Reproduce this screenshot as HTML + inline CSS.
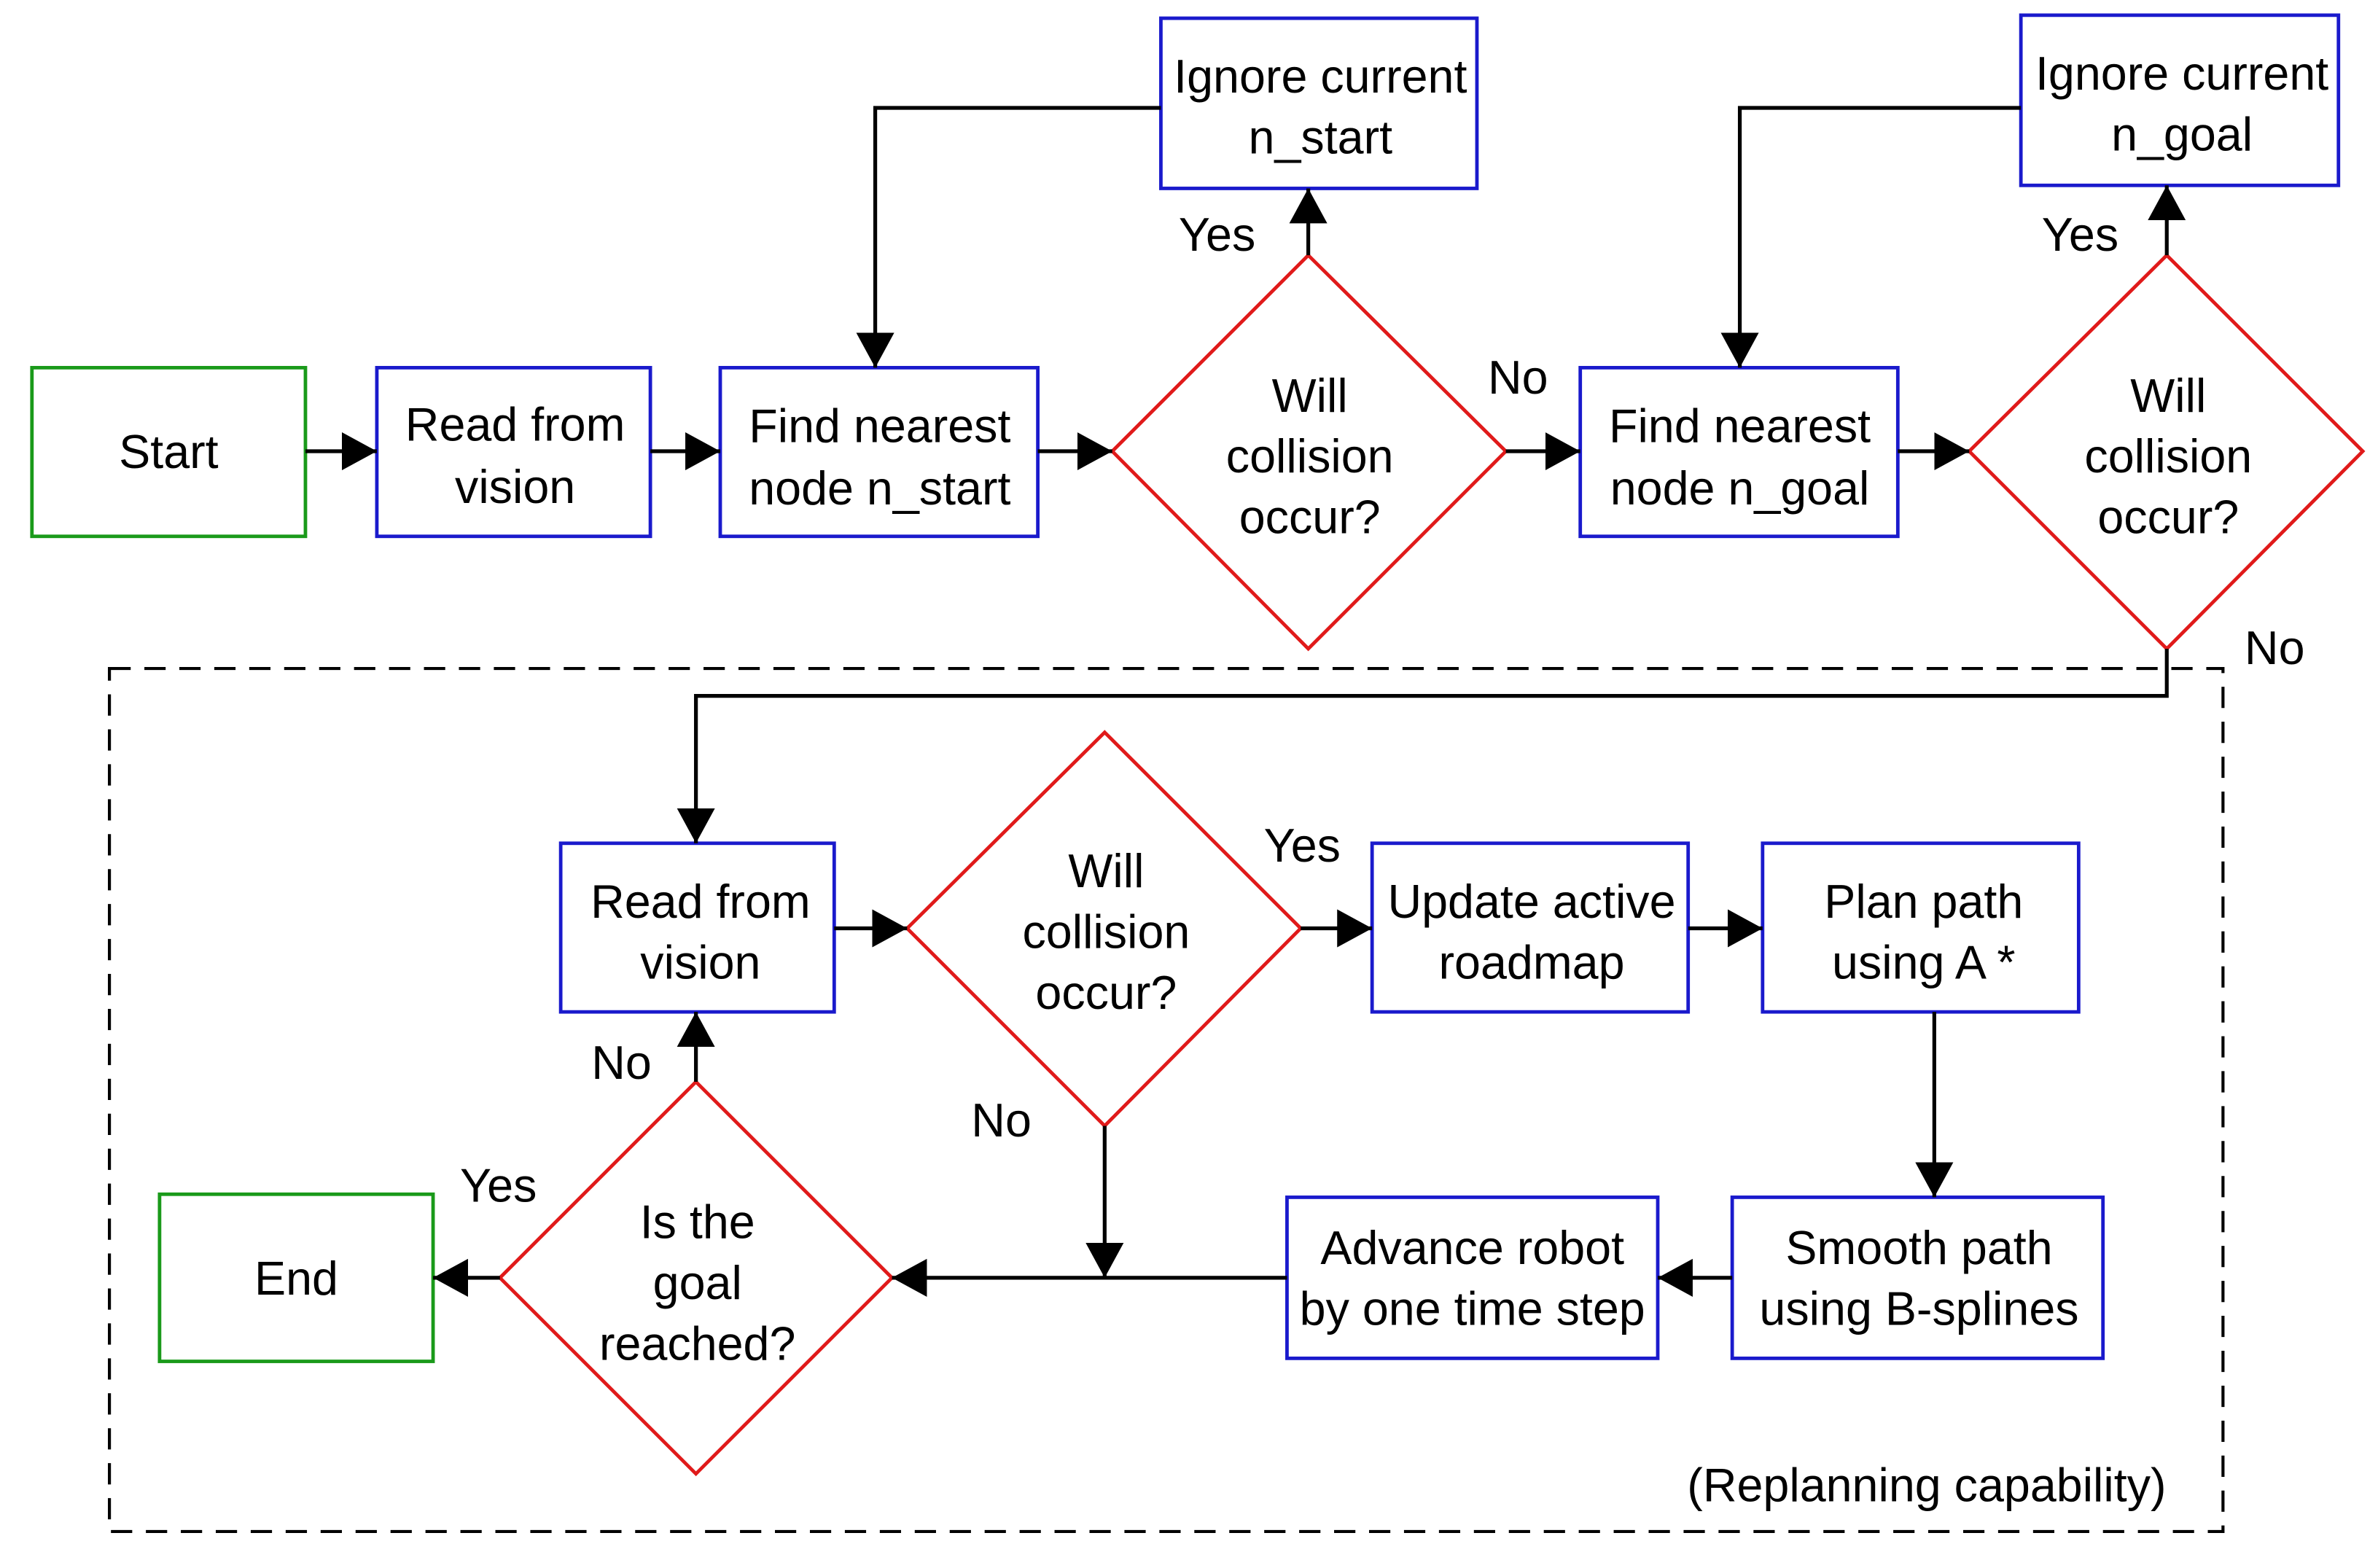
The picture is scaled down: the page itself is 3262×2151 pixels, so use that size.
<!DOCTYPE html>
<html><head><meta charset="utf-8"><style>html,body{margin:0;padding:0;background:#fff}svg{display:block}</style></head>
<body>
<svg width="3262" height="2151" viewBox="0 0 1565 1032" xmlns="http://www.w3.org/2000/svg">
<defs>
<marker id="h" viewBox="0 0 10 10" refX="10" refY="5" markerWidth="23" markerHeight="25" orient="auto" markerUnits="userSpaceOnUse" preserveAspectRatio="none"><path d="M0,0 L10,5 L0,10 z" fill="#000"/></marker></defs>
<g fill="#fff" stroke-width="2.3">
<rect x="21" y="242" width="180" height="111" stroke="#1a9a1a"/>
<rect x="105" y="786" width="180" height="110" stroke="#1a9a1a"/>
<g stroke="#1a1acc">
<rect x="248" y="242" width="180" height="111"/>
<rect x="474" y="242" width="209" height="111"/>
<rect x="764" y="12" width="208" height="112"/>
<rect x="1040" y="242" width="209" height="111"/>
<rect x="1330" y="10" width="209" height="112"/>
<rect x="369" y="555" width="180" height="111"/>
<rect x="903" y="555" width="208" height="111"/>
<rect x="1160" y="555" width="208" height="111"/>
<rect x="1140" y="788" width="244" height="106"/>
<rect x="847" y="788" width="244" height="106"/>
</g>
<g stroke="#e01a1a">
<polygon points="861,168 991,297 861,427 732,297"/>
<polygon points="1426,168 1555,297 1426,427 1296,297"/>
<polygon points="727,482 856,611 727,741 597,611"/>
<polygon points="458,712 587,841 458,970 329,841"/>
</g>
</g>
<rect x="72" y="440" width="1391" height="568" fill="none" stroke="#000" stroke-width="2" stroke-dasharray="14,9"/>
<g fill="none" stroke="#000" stroke-width="2.5" marker-end="url(#h)">
<path d="M201,297 H248"/><path d="M428,297 H474"/><path d="M683,297 H732"/>
<path d="M861,168 V124"/><path d="M764,71 H576 V242"/>
<path d="M991,297 H1040"/><path d="M1249,297 H1296"/>
<path d="M1426,168 V122"/><path d="M1330,71 H1145 V242"/>
<path d="M1426,427 V458 H458 V555"/>
<path d="M549,611 H597"/><path d="M856,611 H903"/><path d="M1111,611 H1160"/>
<path d="M1273,666 V788"/><path d="M1140,841 H1091"/>
<path d="M847,841 H587"/><path d="M727,741 V841"/>
<path d="M458,712 V666"/><path d="M329,841 H285"/>
</g>
<g font-family="Liberation Sans, sans-serif" font-size="31" fill="#000" text-anchor="middle">
<text x="111" y="308">Start</text>
<text x="339" y="290">Read from</text><text x="339" y="331">vision</text>
<text x="579" y="291">Find nearest</text><text x="579" y="332">node n_start</text>
<text x="869" y="61">Ignore current</text><text x="869" y="101">n_start</text>
<text x="862" y="271">Will</text><text x="862" y="311">collision</text><text x="862" y="351">occur?</text>
<text x="1145" y="291">Find nearest</text><text x="1145" y="332">node n_goal</text>
<text x="1436" y="59">Ignore current</text><text x="1436" y="99">n_goal</text>
<text x="1427" y="271">Will</text><text x="1427" y="311">collision</text><text x="1427" y="351">occur?</text>
<text x="461" y="604">Read from</text><text x="461" y="644">vision</text>
<text x="728" y="584">Will</text><text x="728" y="624">collision</text><text x="728" y="664">occur?</text>
<text x="1008" y="604">Update active</text><text x="1008" y="644">roadmap</text>
<text x="1266" y="604">Plan path</text><text x="1266" y="644">using A *</text>
<text x="1263" y="832">Smooth path</text><text x="1263" y="872">using B-splines</text>
<text x="969" y="832">Advance robot</text><text x="969" y="872">by one time step</text>
<text x="459" y="815">Is the</text><text x="459" y="855">goal</text><text x="459" y="895">reached?</text>
<text x="195" y="852">End</text>
<text x="801" y="165">Yes</text><text x="999" y="259">No</text>
<text x="1369" y="165">Yes</text><text x="1497" y="437">No</text>
<text x="857" y="567">Yes</text><text x="409" y="710">No</text>
<text x="659" y="748">No</text><text x="328" y="791">Yes</text>
<text x="1268" y="988">(Replanning capability)</text>
</g>
</svg>
</body></html>
